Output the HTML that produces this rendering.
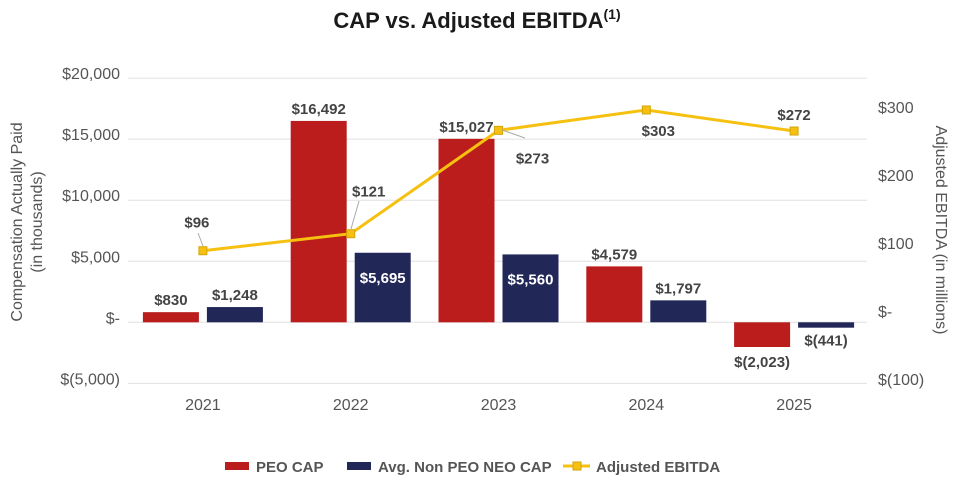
<!DOCTYPE html>
<html><head><meta charset="utf-8"><style>
body{margin:0;background:#fff;}
svg{display:block;font-family:"Liberation Sans",sans-serif;}
</style></head><body>
<svg id="chart" width="954" height="478" viewBox="0 0 954 478">
<text x="477" y="28" text-anchor="middle" font-size="22" font-weight="bold" fill="#1a1a1a">CAP vs. Adjusted EBITDA<tspan font-size="14" dy="-9">(1)</tspan></text>
<g id="grid"></g><g id="bars"></g><g id="line"></g><g id="labels"></g>
<line x1="198" y1="233" x2="203" y2="246" stroke="#aaa" stroke-width="1"/>
<line x1="359" y1="201" x2="351" y2="229" stroke="#aaa" stroke-width="1"/>
<line x1="502" y1="130" x2="525" y2="138" stroke="#aaa" stroke-width="1"/>
<text transform="translate(22,222) rotate(-90)" text-anchor="middle" font-size="16" fill="#555"><tspan x="0" dy="0">Compensation Actually Paid</tspan><tspan x="0" dy="20">(in thousands)</tspan></text>
<text transform="translate(936,230) rotate(90)" text-anchor="middle" font-size="16" fill="#555">Adjusted EBITDA (in millions)</text>
<g>
<rect x="225" y="462" width="24" height="8" fill="#bb1c1c"/>
<text x="256" y="472" font-size="15" font-weight="bold" fill="#555">PEO CAP</text>
<rect x="347" y="462" width="24" height="8" fill="#212757"/>
<text x="378" y="472" font-size="15" font-weight="bold" fill="#555">Avg. Non PEO NEO CAP</text>
<line x1="563" y1="466" x2="590" y2="466" stroke="#f5c00f" stroke-width="3"/>
<rect x="573" y="462" width="8" height="8" fill="#f5c00f" stroke="#d4a50a"/>
<text x="596" y="472" font-size="15" font-weight="bold" fill="#555">Adjusted EBITDA</text>
</g>
</svg>
<script>
const categories=["2021","2022","2023","2024","2025"];
const peoCap=[830,16492,15027,4579,-2023];
const neoCap=[1248,5695,5560,1797,-441];
const ebitda=[96,121,273,303,272];
const peoLabels=["$830","$16,492","$15,027","$4,579","$(2,023)"];
const neoLabels=["$1,248","$5,695","$5,560","$1,797","$(441)"];
const ebitdaLabels=["$96","$121","$273","$303","$272"];
const leftTicks=[-5000,0,5000,10000,15000,20000];
const leftTickLabels=["$(5,000)","$-","$5,000","$10,000","$15,000","$20,000"];
const rightTicks=[-100,0,100,200,300];
const rightTickLabels=["$(100)","$-","$100","$200","$300"];

const NS="http://www.w3.org/2000/svg";
const X0=128,X1=867,catW=(X1-X0)/categories.length;
const yL=v=>322.3-v*(61.05/5000);
const yR=v=>316-v*0.68;
const cx=i=>X0+catW*(i+0.5)+1;
function mk(tag,attrs,parent,text){const e=document.createElementNS(NS,tag);for(const k in attrs)e.setAttribute(k,attrs[k]);if(text!==undefined)e.textContent=text;document.getElementById(parent).appendChild(e);return e;}
leftTicks.forEach((t,i)=>{
  const g=mk('line',{x1:X0,x2:X1,y1:yL(t),y2:yL(t),stroke:'#e0e0e0','stroke-width':1},'grid');
  
  
  const l=mk('text',{x:120,y:yL(t)+1,'text-anchor':'end','font-size':16,fill:'#555'},'grid',leftTickLabels[i]);
  
  
});
rightTicks.forEach((t,i)=>{
  const l=mk('text',{x:878,y:yR(t)+1,'font-size':16,fill:'#555'},'grid',rightTickLabels[i]);
  
  
});
categories.forEach((c,i)=>{
  const l=mk('text',{x:cx(i),y:410,'text-anchor':'middle','font-size':16,fill:'#555'},'grid',c);
  
  
  [[peoCap,'#bb1c1c',-60,peoLabels,'peo'],[neoCap,'#212757',4,neoLabels,'neo']].forEach(([arr,col,off,labs,nm])=>{
    const v=arr[i],y0=yL(0),y1=yL(v);
    const b=mk('rect',{x:cx(i)+off,y:Math.min(y0,y1),width:56,height:Math.max(1,Math.abs(y1-y0)),fill:col},'bars');
    
    
    let ly,fill='#444';
    if(v<0) ly=Math.max(y0,y1)+ (nm==='peo'?20:18);
    else if(nm==='neo' && y0-y1>60){ly=y1+30;fill='#fff';}
    else ly=y1-7;
    const t=mk('text',{x:cx(i)+off+28,y:ly,'text-anchor':'middle','font-size':15,'font-weight':'bold',fill:fill},'labels',labs[i]);
    
    
  });
});
const pts=ebitda.map((v,i)=>[cx(i),yR(v)]);
const pl=mk('polyline',{points:pts.map(p=>p.join(',')).join(' '),fill:'none',stroke:'#f5c00f','stroke-width':3},'line');


const lblOff=[[-6,-28],[18,-42],[34,28],[12,21],[0,-16]];
pts.forEach((p,i)=>{
  const m=mk('rect',{x:p[0]-4,y:p[1]-4,width:8,height:8,fill:'#f5c00f',stroke:'#d4a50a'},'line');
  
  
  const t=mk('text',{x:p[0]+lblOff[i][0],y:p[1]+lblOff[i][1]+5,'text-anchor':'middle','font-size':15,'font-weight':'bold',fill:'#444'},'labels',ebitdaLabels[i]);
  
  
});
</script>
</body></html>
